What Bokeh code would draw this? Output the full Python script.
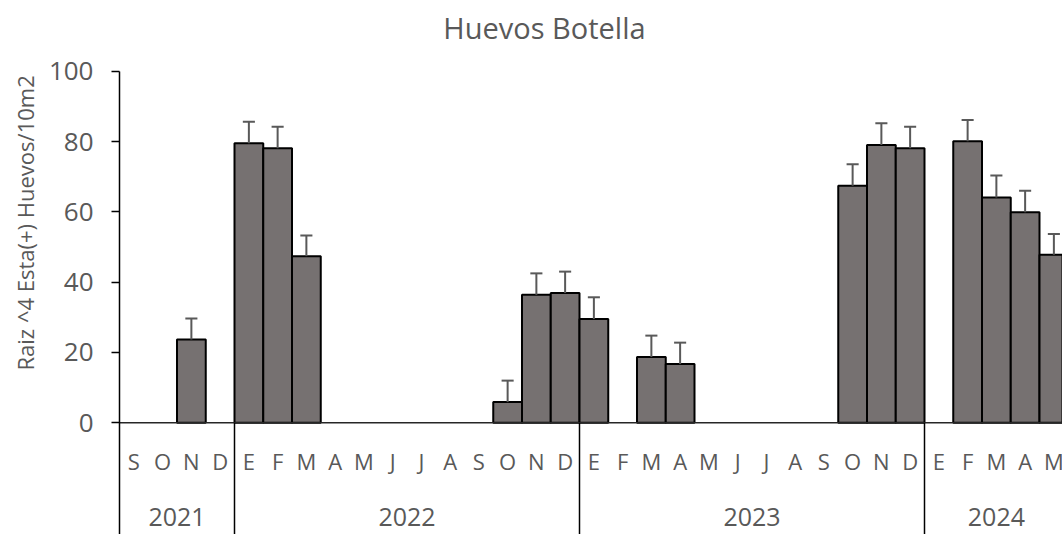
from bokeh.plotting import figure
from bokeh.models import Range1d, FixedTicker, Title
from bokeh.core.properties import value
from bokeh.embed import file_html
from bokeh.resources import INLINE
import numpy as np

# Monthly sampling, Sep 2021 - May 2024 (Spanish month initials)
years = ["2021", "2022", "2023", "2024"]
months_per_year = [4, 12, 12, 5]
month_labels = (["S", "O", "N", "D"]
                + ["E", "F", "M", "A", "M", "J", "J", "A", "S", "O", "N", "D"]
                + ["E", "F", "M", "A", "M", "J", "J", "A", "S", "O", "N", "D"]
                + ["E", "F", "M", "A", "M"])

nan = float("nan")
# Mean (4th-root transformed) egg counts per 10 m2; NaN = no bar
means = ([nan, nan, 23.7, nan]
         + [79.5, 78.1, 47.4, nan, nan, nan, nan, nan, nan, 5.9, 36.4, 36.9]
         + [29.5, nan, 18.7, 16.7, nan, nan, nan, nan, nan, 67.4, 79.0, 78.1]
         + [nan, 80.1, 64.1, 59.9, 47.8])
# Standard errors (upper whisker only)
errors = ([nan, nan, 6.0, nan]
          + [6.1, 6.1, 5.9, nan, nan, nan, nan, nan, nan, 6.1, 6.1, 6.1]
          + [6.2, nan, 6.1, 6.1, nan, nan, nan, nan, nan, 6.1, 6.2, 6.1]
          + [nan, 6.0, 6.2, 6.1, 5.9])

y_ticks = [0, 20, 40, 60, 80, 100]

FONT = "Open Sans"
TXT = "#595959"
BAR = "#767171"

n = len(month_labels)
centers = np.arange(n) + 0.5
m = np.array(means, dtype=float)
e = np.array(errors, dtype=float)
has = ~np.isnan(m)

# the frame spans the full height: the category labels sit below 0 and
# the title above 100, all drawn in data space
p = figure(width=1062, height=534, output_backend="svg", toolbar_location=None,
           x_range=Range1d(0, 32.8), y_range=Range1d(-31.76, 120.1),
           min_border_left=119, min_border_right=0, min_border_top=0,
           min_border_bottom=0, background_fill_color="white",
           border_fill_color="white")
p.outline_line_color = None
p.xgrid.visible = False
p.ygrid.visible = False
p.xaxis.visible = False

ax = p.yaxis[0]
ax.bounds = (-31.76, 100)
ax.ticker = FixedTicker(ticks=y_ticks)
ax.axis_line_color = "black"
ax.axis_line_width = 1.5
ax.major_tick_line_color = "black"
ax.major_tick_line_width = 1.5
ax.major_tick_out = 8
ax.major_tick_in = 0
ax.minor_tick_line_color = None
ax.major_label_text_font = FONT
ax.major_label_text_font_size = "26px"
ax.major_label_text_color = TXT
ax.major_label_standoff = 18

# y-axis title
p.add_layout(Title(text="Raiz ^4 Esta(+) Huevos/10m2", text_font=FONT,
                   text_font_size="22px", text_font_style="normal",
                   text_color=TXT, align="left", offset=164, standoff=12),
             "left")

# chart title
p.text(x=[14.78], y=[112.4], text=["Huevos Botella"], text_font=value(FONT),
       text_font_size="29px", text_color=TXT, text_align="center",
       text_baseline="middle")

# bars
p.vbar(x=centers[has], top=m[has], bottom=0, width=1.0,
       fill_color=BAR, line_color="black", line_width=2)

# error whiskers with caps
p.segment(x0=centers[has], y0=m[has], x1=centers[has], y1=(m + e)[has],
          line_color=TXT, line_width=2)
p.segment(x0=centers[has] - 0.21, y0=(m + e)[has], x1=centers[has] + 0.21,
          y1=(m + e)[has], line_color=TXT, line_width=2)

# category baseline
p.segment(x0=[0], y0=[0], x1=[n], y1=[0], line_color="#262626", line_width=1.5)

# year separators below the baseline
bounds = np.cumsum(months_per_year)[:-1]
p.segment(x0=bounds, y0=[0] * len(bounds), x1=bounds, y1=[-40] * len(bounds),
          line_color="black", line_width=1.5)

# month initials
p.text(x=centers, y=[-11.0] * n, text=month_labels, text_font=value(FONT),
       text_font_size="22px", text_color=TXT, text_align="center",
       text_baseline="middle")

# year labels, centred on each year's group
starts = np.concatenate([[0], np.cumsum(months_per_year)[:-1]])
year_x = starts + np.array(months_per_year) / 2
p.text(x=year_x, y=[-26.8] * len(years), text=years, text_font=value(FONT),
       text_font_size="25px", text_color=TXT, text_align="center",
       text_baseline="middle")

open("out.html", "w").write(file_html(p, INLINE))
